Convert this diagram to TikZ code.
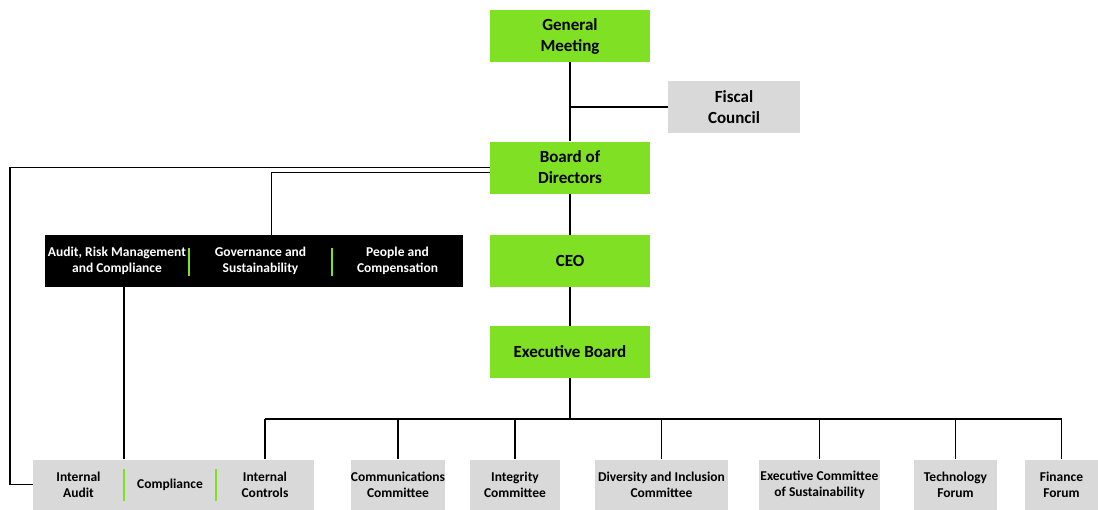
\documentclass[tikz,border=0pt]{standalone}
\usepackage{fontspec}
\setmainfont{Carlito}
\definecolor{leafgreen}{RGB}{127,224,36}
\definecolor{boxgray}{RGB}{217,217,217}

\begin{document}
\begin{tikzpicture}[x=1pt,y=-1pt,
  box/.style={inner sep=0pt, align=center},
  greenbox/.style={box, fill=leafgreen, minimum width=160pt, minimum height=52pt, font=\bfseries\fontsize{17}{21}\selectfont},
  graybox/.style={box, fill=boxgray, minimum height=50pt, font=\bfseries\fontsize{13.5}{16}\selectfont},
  blackcell/.style={box, fill=black, text=white, minimum height=52pt, font=\bfseries\fontsize{13.5}{16}\selectfont},
  divider/.style={leafgreen, line width=2.5pt},
  link/.style={black, line width=1.5pt}]
  \useasboundingbox (0,0) rectangle (1098,509);

  \node[greenbox] (gm) at (570,36) {General\\Meeting};
  \node[graybox, minimum width=132pt, minimum height=52pt, font=\bfseries\fontsize{17}{21}\selectfont] (fiscal) at (734,107) {Fiscal\\Council};
  \node[greenbox] (board) at (570,167.5) {Board of\\Directors};
  \node[greenbox] (ceo) at (570,261) {CEO};
  \node[greenbox] (exec) at (570,352) {Executive Board};

  \node[blackcell, minimum width=144pt] (arm) at (117,261) {Audit, Risk Management\\and Compliance};
  \node[blackcell, minimum width=143pt] (gov) at (260.5,261) {Governance and\\Sustainability};
  \node[blackcell, minimum width=131pt] (people) at (397.5,261) {People and\\Compensation};
  \draw[divider] ([yshift=-13pt]arm.north east) -- ([yshift=11pt]arm.south east);
  \draw[divider] ([yshift=-13pt]gov.north east) -- ([yshift=11pt]gov.south east);

  \node[graybox, minimum width=91pt] (audit) at (78.5,484.5) {Internal\\Audit};
  \node[graybox, minimum width=92pt] (compl) at (170,484.5) {Compliance};
  \node[graybox, minimum width=98pt] (intctrl) at (265,484.5) {Internal\\Controls};
  \draw[divider] ([yshift=-10pt]audit.north east) -- ([yshift=9pt]audit.south east);
  \draw[divider] ([yshift=-10pt]compl.north east) -- ([yshift=9pt]compl.south east);

  \node[graybox, minimum width=92pt] (comm) at (398,484.5) {Communications\\Committee};
  \node[graybox, minimum width=90pt] (integ) at (515,484.5) {Integrity\\Committee};
  \node[graybox, minimum width=133pt] (divers) at (661.5,484.5) {Diversity and Inclusion\\Committee};
  \node[graybox, minimum width=121pt] (esg) at (819.5,484.5) {Executive Committee\\of Sustainability};
  \node[graybox, minimum width=83pt] (tech) at (955.5,484.5) {Technology\\Forum};
  \node[graybox, minimum width=73pt] (fin) at (1061.5,484.5) {Finance\\Forum};

  \coordinate (leftrail) at (10,300);
  \coordinate (bus) at (570,419);

  \draw[link] (gm) -- (board);
  \draw[link] (fiscal.west) -- (fiscal.west -| gm.south);
  \draw[link] (board) -- (ceo);
  \draw[link] (ceo) -- (exec);
  \draw[link] (board.west) -| (leftrail) |- (audit.west);
  \draw[link] ([yshift=-5pt]board.west) -| ([xshift=11pt]gov.north);
  \draw[link] (audit.north east |- arm.south) -- (audit.north east);
  \draw[link] (exec) -- (bus);
  \draw[link] (bus -| intctrl.north) -- (bus -| fin.north);
  \foreach \n in {intctrl, comm, integ, divers, esg, tech, fin}
    \draw[link] (bus -| \n.north) -- (\n.north);
\end{tikzpicture}
\end{document}
